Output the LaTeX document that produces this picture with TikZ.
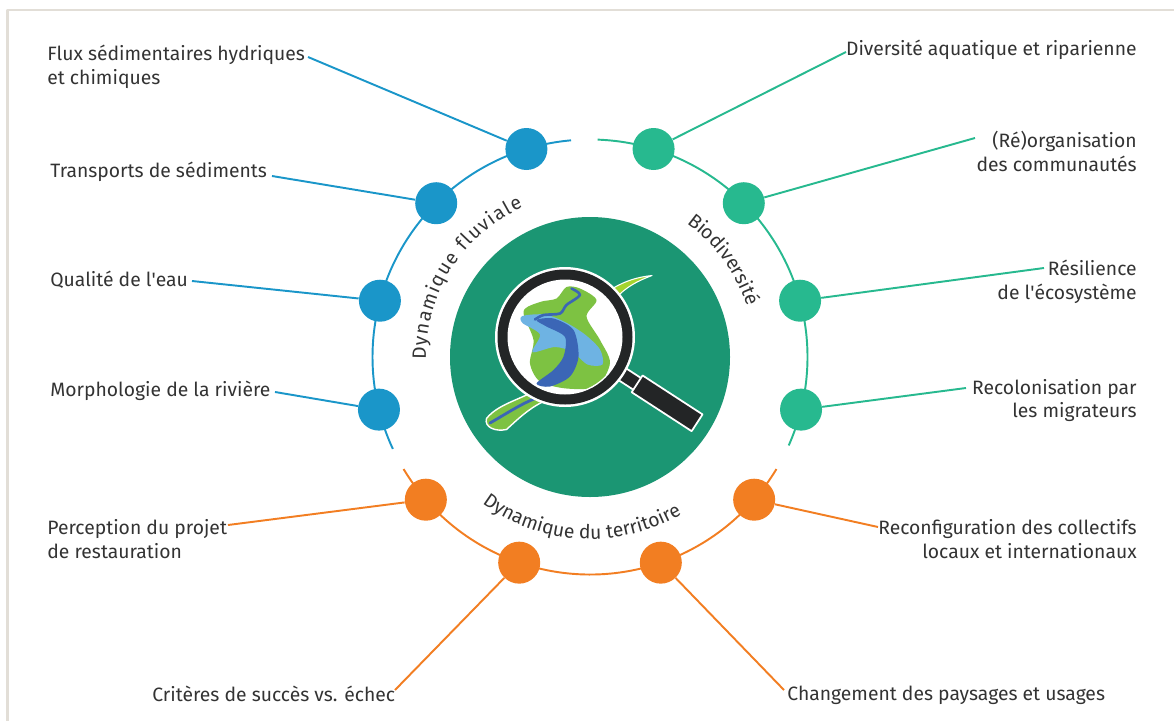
\documentclass[tikz,border=0pt]{standalone}
\usepackage{fontspec}
\setmainfont{Fira Sans}
\usetikzlibrary{positioning,decorations.text}

\definecolor{fluvial}{HTML}{1A96C9}
\definecolor{biodiv}{HTML}{27B98F}
\definecolor{terri}{HTML}{F27E22}
\definecolor{centre}{HTML}{1B9673}
\definecolor{txt}{HTML}{333333}
\definecolor{cadre}{HTML}{E2DED7}
\definecolor{vert}{HTML}{7DC242}
\definecolor{eauclair}{HTML}{6EB3E3}
\definecolor{eau}{HTML}{3B66B6}
\definecolor{loupe}{HTML}{232526}

\tikzset{
	every picture/.style={line join=round},
	dot/.style={circle, inner sep=0pt, minimum size=8.4mm},
	lab/.style={font=\fontsize{11}{13.6}\selectfont, text=txt, inner sep=0pt},
	link/.style={line width=1.1pt},
	arctext/.style={decorate, decoration={text along path, text align=#1}},
}

\begin{document}
\begin{tikzpicture}
\useasboundingbox (-11.80,-7.26) rectangle (11.68,7.14);
\draw[cadre, line width=1.7pt] (-11.64,-7.40) -- (-11.64,6.94) -- (11.80,6.94);

% 中心圆
\fill[centre] (0,0) circle (2.8);

% 三段圆弧
\draw[fluvial, link] (95:4.35) arc[start angle=95, end angle=205, radius=4.35];
\draw[biodiv, link] (88:4.35) arc[start angle=88, end angle=-24, radius=4.35];
\draw[terri, link] (211:4.35) arc[start angle=211, end angle=329, radius=4.35];

% 圆点
\foreach \n/\a in {b1/107, b2/135, b3/165, b4/194}
	\node[dot, fill=fluvial] (\n) at (\a:4.35) {};
\foreach \n/\a in {g1/73, g2/45, g3/15, g4/-14}
	\node[dot, fill=biodiv] (\n) at (\a:4.35) {};
\foreach \n/\a in {o1/221, o2/251, o3/289, o4/319}
	\node[dot, fill=terri] (\n) at (\a:4.35) {};

% 弧形标题
\path[arctext=fit to path, decoration={text={|\fontsize{11}{13}\selectfont\color{txt}|Dynamique fluviale}}]
	(181:3.28) arc[start angle=181, end angle=114, radius=3.28];
\path[arctext=center, decoration={text={|\fontsize{11}{13}\selectfont\color{txt}|Biodiversité}}]
	(72:3.30) arc[start angle=72, end angle=0, radius=3.30];
\path[arctext=center, decoration={text={|\fontsize{11}{13}\selectfont\color{txt}|Dynamique du territoire}}]
	(222:3.64) arc[start angle=222, end angle=312, radius=3.64];

% 文字标签
\node[lab, anchor=west, align=left] (flux) at (-10.86,5.80) {Flux sédimentaires hydriques\\et chimiques};
\node[lab, anchor=west] (transp) at (-10.80,3.70) {Transports de sédiments};
\node[lab, anchor=west] (qual) at (-10.80,1.54) {Qualité de l\textquotesingle eau};
\node[lab, anchor=west] (morph) at (-10.80,-0.68) {Morphologie de la rivière};

\node[lab, anchor=east] (divers) at (10.94,6.14) {Diversité aquatique et riparienne};
\node[lab, anchor=east, align=right] (reorg) at (10.94,4.11) {(Ré)organisation\\des communautés};
\node[lab, anchor=east, align=right] (resil) at (10.94,1.51) {Résilience\\de l\textquotesingle écosystème};
\node[lab, anchor=east, align=right] (recol) at (10.94,-0.87) {Recolonisation par\\les migrateurs};

\node[lab, anchor=west, align=left] (percep) at (-10.86,-3.65) {Perception du projet\\de restauration};
\node[lab, anchor=west] (crit) at (-8.76,-6.74) {Critères de succès vs. échec};
\node[lab, anchor=west] (chang) at (3.94,-6.76) {Changement des paysages et usages};
\node[lab, anchor=east, align=right] (reconf) at (10.94,-3.65) {Reconfiguration des collectifs\\locaux et internationaux};

% 连线
\coordinate (cb1) at (-5.64,6.00);
\coordinate (cb2) at (-6.36,3.62);
\coordinate (cb3) at (-7.96,1.52);
\coordinate (cb4) at (-6.30,-0.70);
\coordinate (cg1) at (5.12,6.10);
\coordinate (cg2) at (7.70,4.38);
\coordinate (cg3) at (9.08,1.78);
\coordinate (cg4) at (7.52,-0.62);
\coordinate (co1) at (-7.24,-3.36);
\coordinate (co2) at (-3.90,-6.66);
\coordinate (co3) at (3.88,-6.66);
\coordinate (co4) at (5.76,-3.40);
\foreach \i in {1,...,4}{
	\draw[fluvial, link] (cb\i) -- (b\i);
	\draw[biodiv, link] (cg\i) -- (g\i);
	\draw[terri, link] (co\i) -- (o\i);
}

% 放大镜
\begin{scope}[shift={(-0.5,0.4)}]
	\filldraw[vert, draw=white, line width=0.8pt] (-0.55,-1.05) .. controls (-0.9,-1.25) and (-1.35,-1.35) .. (-1.57,-1.63)
		.. controls (-1.62,-1.80) and (-1.40,-1.90) .. (-1.17,-1.85) .. controls (-0.95,-1.65) and (-0.75,-1.45) .. (-0.45,-1.30) -- cycle;
	\draw[eau, line width=1.6pt, line cap=round] (-1.50,-1.72) .. controls (-1.2,-1.55) and (-0.9,-1.35) .. (-0.62,-1.24);
	\filldraw[vert!70!yellow, draw=white, line width=0.6pt] (0.95,0.97) .. controls (1.2,1.12) and (1.45,1.20) .. (1.74,1.23)
		.. controls (1.45,1.12) and (1.22,1.0) .. (1.02,0.78) -- cycle;
	\begin{scope}[rotate=-33]
		\filldraw[loupe, draw=white, line width=1pt] (1.25,-0.14) rectangle (1.78,0.14);
		\filldraw[loupe, draw=white, line width=1pt] (1.72,-0.20) rectangle (3.15,0.20);
	\end{scope}
	\fill[white] (0,0) circle (1.40);
	\fill[loupe] (0,0) circle (1.35);
	\fill[white] (0,0) circle (1.15);
	\begin{scope}
		\clip (0,0) circle (1.12);
		\fill[vert] plot[smooth cycle] coordinates {(-0.83,0.51) (-0.5,0.7) (-0.17,0.77) (0.03,1.0) (0.3,0.97) (0.63,0.74)
			(0.43,0.41) (0.7,-0.06) (0.9,-0.52) (0.63,-0.99) (0.03,-1.03) (-0.5,-0.89) (-0.7,-0.53) (-0.63,-0.06)};
		\fill[eauclair] plot[smooth cycle] coordinates {(-0.85,0.42) (-0.4,0.45) (0.0,0.3) (0.4,0.05) (0.7,-0.25)
			(0.75,-0.55) (0.45,-0.55) (0.15,-0.3) (-0.2,-0.2) (-0.65,-0.3) (-0.5,0.05) (-0.85,0.28)};
		\fill[eau] plot[smooth cycle] coordinates {(-0.23,0.37) (0.17,0.14) (0.27,-0.39) (0.1,-0.79) (-0.3,-0.99)
			(-0.57,-0.93) (-0.23,-0.66) (-0.03,-0.39) (0.0,0.0) (-0.37,0.21) (-0.57,0.34)};
		\draw[eau, line width=1.5pt, line cap=round] plot[smooth] coordinates {(0.13,0.97) (0.3,0.84) (0.03,0.64)
			(-0.1,0.47) (-0.43,0.44) (-0.6,0.35)};
	\end{scope}
\end{scope}
\end{tikzpicture}
\end{document}
